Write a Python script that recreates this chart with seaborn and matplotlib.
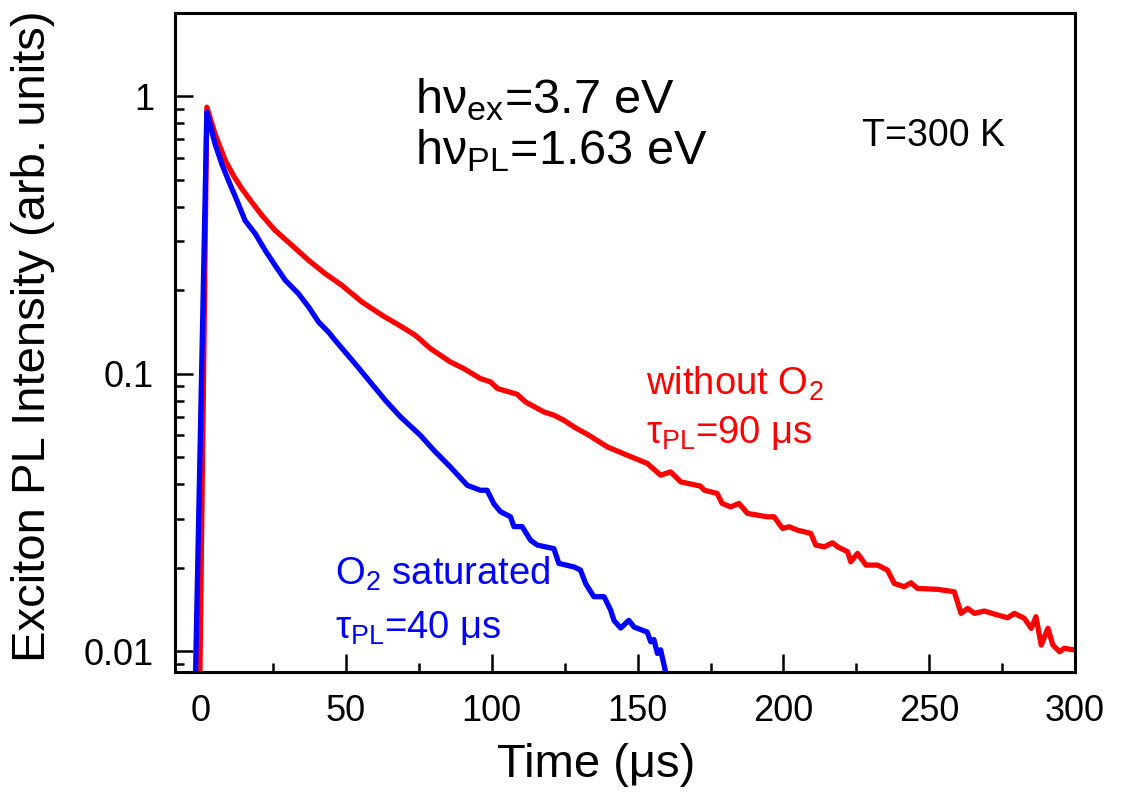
import numpy as np
import pandas as pd
import matplotlib
matplotlib.use("Agg")
import matplotlib.pyplot as plt
import matplotlib.ticker as mticker
import seaborn as sns

# ---- data ----
red_t = [-0.1, 2.3, 5.1, 8.6, 11.4, 14.3, 17.7, 21.2, 25.7, 31.5, 37.2, 42.9, 48.6,
         55.5, 62.4, 69.2, 73.8, 79.0, 85.8, 90.4, 96.1, 99.6, 101.9, 108.7, 111.6,
         117.9, 121.3, 124.7, 128.2, 133.3, 139.6, 146.5, 153.3, 157.9, 161.3, 164.8,
         171.6, 172.8, 177.3, 179.0, 181.9, 184.8, 187.7, 194.5, 196.8, 199.7, 202.0,
         204.8, 209.4, 211.1, 214.0, 216.8, 218.6, 222.0, 223.1, 225.4, 228.3, 232.3,
         235.7, 238.0, 241.4, 243.7, 246.0, 252.9, 258.6, 260.9, 263.2, 265.5, 268.9,
         273.5, 276.9, 279.2, 282.6, 285.0, 286.6, 288.4, 290.7, 292.4, 294.7, 296.3,
         300.0]
red_i = [0.0080, 0.915, 0.733, 0.588, 0.519, 0.465, 0.416, 0.3726, 0.329, 0.2904,
         0.2564, 0.2296, 0.2084, 0.1815, 0.1625, 0.1475, 0.1376, 0.1232, 0.1103,
         0.1044, 0.0961, 0.0934, 0.0885, 0.0843, 0.0791, 0.0728, 0.0709, 0.0680,
         0.0643, 0.0600, 0.0545, 0.0508, 0.0475, 0.04306, 0.04426, 0.04074, 0.03932,
         0.03804, 0.03700, 0.03405, 0.03311, 0.03405, 0.03134, 0.03048, 0.03048,
         0.02768, 0.02805, 0.02729, 0.02655, 0.02410, 0.02376, 0.02456, 0.02376,
         0.02280, 0.02098, 0.02250, 0.02041, 0.02041, 0.01958, 0.01754, 0.01705,
         0.01762, 0.01682, 0.01669, 0.01635, 0.01367, 0.01425, 0.01367, 0.01394,
         0.01348, 0.01318, 0.01367, 0.01312, 0.01207, 0.01329, 0.01051, 0.01207,
         0.01051, 0.00994, 0.01023, 0.01008]

blue_t = [-1.6, 2.3, 5.1, 7.4, 9.7, 12.6, 15.4, 18.9, 22.3, 25.7, 29.2, 33.7, 37.2,
          40.6, 44.0, 46.3, 54.0, 63.5, 68.7, 75.5, 80.1, 85.8, 91.6, 96.1, 98.4,
          100.7, 103.0, 106.4, 107.6, 110.4, 113.3, 115.6, 121.3, 123.0, 128.2, 130.4,
          132.2, 135.0, 138.5, 140.7, 141.9, 144.2, 147.0, 148.8, 153.3, 154.5, 155.6,
          156.8, 157.9, 159.6, 160.5]
blue_i = [0.0080, 0.878, 0.675, 0.572, 0.498, 0.422, 0.357, 0.320, 0.2786, 0.246,
          0.2173, 0.1945, 0.1741, 0.1537, 0.1414, 0.132, 0.106, 0.0802, 0.0699,
          0.0600, 0.0530, 0.0461, 0.0396, 0.0380, 0.0380, 0.0340, 0.0318, 0.0305,
          0.0281, 0.0281, 0.0251, 0.0241, 0.0234, 0.0207, 0.0201, 0.0196, 0.0175,
          0.0157, 0.0157, 0.0141, 0.0129, 0.0121, 0.0129, 0.0122, 0.0117, 0.0108,
          0.0110, 0.0098, 0.0101, 0.0084, 0.0075]

x_major = [0, 50, 100, 150, 200, 250, 300]
y_major = [0.01, 0.1, 1]
y_labels = ["0.01", "0.1", "1"]

# ---- styling ----
sns.set_theme(style="ticks")
plt.rcParams["font.family"] = ["Liberation Sans", "DejaVu Sans"]
plt.rcParams["mathtext.fontset"] = "custom"
plt.rcParams["mathtext.rm"] = "Liberation Sans"
plt.rcParams["mathtext.it"] = "Liberation Sans:italic"
plt.rcParams["mathtext.bf"] = "Liberation Sans:bold"

fig = plt.figure(figsize=(11.25, 7.92), dpi=100)
ax = fig.add_axes([0.1556, 0.1515, 0.8, 0.8321])

red_df = pd.DataFrame({"t": red_t, "I": red_i})
blue_df = pd.DataFrame({"t": blue_t, "I": blue_i})
sns.lineplot(data=red_df, x="t", y="I", ax=ax, color="#ff0000", lw=3.8,
             sort=False, estimator=None)
sns.lineplot(data=blue_df, x="t", y="I", ax=ax, color="#0000ff", lw=3.8,
             sort=False, estimator=None)

ax.set_yscale("log")
ax.set_xlim(-8.6, 300)
ax.set_ylim(0.0084, 2.0)

ax.xaxis.set_major_locator(mticker.FixedLocator(x_major))
ax.xaxis.set_minor_locator(mticker.MultipleLocator(25))
ax.yaxis.set_major_locator(mticker.FixedLocator(y_major))
ax.yaxis.set_major_formatter(mticker.FixedFormatter(y_labels))
ax.yaxis.set_minor_locator(mticker.LogLocator(base=10, subs=np.arange(2, 10)))
ax.yaxis.set_minor_formatter(mticker.NullFormatter())

ax.tick_params(which="both", direction="in", top=False, right=False, width=1.8,
               color="black", labelsize=26, labelcolor="black")
ax.tick_params(which="major", length=13)
ax.tick_params(which="minor", length=6.5)
ax.tick_params(axis="y", which="major", pad=15)
ax.tick_params(axis="x", which="major", pad=16)

for s in ax.spines.values():
    s.set_linewidth(2.2)
    s.set_color("black")

ax.set_xlabel("Time (μs)", fontsize=34, color="black")
ax.xaxis.set_label_coords(0.468, -0.108)
ax.set_ylabel("Exciton PL Intensity (arb. units)", fontsize=34, color="black")
ax.yaxis.set_label_coords(-0.133, 0.51)

ax.text(73.8, 0.87, r"hν$_{\mathregular{ex}}$=3.7 eV", fontsize=35, color="black")
ax.text(73.8, 0.57, r"hν$_{\mathregular{PL}}$=1.63 eV", fontsize=35, color="black")
ax.text(227, 0.66, "T=300 K", fontsize=27, color="black")

ax.text(152.8, 0.0837, r"without O$_{\mathregular{2}}$", fontsize=27.5, color="#ff0000")
ax.text(152.8, 0.0562, r"τ$_{\mathregular{PL}}$=90 μs", fontsize=27.5, color="#ff0000")
ax.text(46.3, 0.0173, r"O$_{\mathregular{2}}$ saturated", fontsize=27.5, color="#0000ff")
ax.text(46.3, 0.0111, r"τ$_{\mathregular{PL}}$=40 μs", fontsize=27.5, color="#0000ff")

fig.savefig("out.png", dpi=100)
